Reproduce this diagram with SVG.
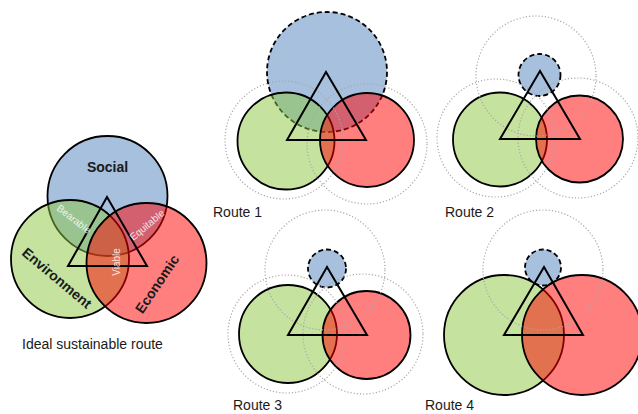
<svg xmlns="http://www.w3.org/2000/svg" width="638" height="414" viewBox="0 0 638 414">
<defs>
<style>
.soc{fill:#4F81BD;fill-opacity:0.5;stroke:#000;stroke-width:1.8}
.env{fill:#8CC63F;fill-opacity:0.5;stroke:#000;stroke-width:1.8}
.eco{fill:#FF0000;fill-opacity:0.5;stroke:#000;stroke-width:1.8}
.dash{stroke-dasharray:5 3}
.dot{fill:none;stroke:#A8A8A8;stroke-width:1.2;stroke-dasharray:1.2 2}
.tri{fill:none;stroke:#000;stroke-width:2;stroke-linejoin:miter}
.lbl{font-family:"Liberation Sans",Arial,sans-serif;font-size:14px;fill:#1a1a1a}
.big{font-family:"Liberation Sans",Arial,sans-serif;font-size:14px;font-weight:bold;fill:#1a1a1a}
.sm{font-family:"Liberation Sans",Arial,sans-serif;font-size:10px;fill:#fff;fill-opacity:0.85}
</style>
</defs>
<rect width="638" height="414" fill="#fff"/>
<g id="connectors"/>

<!-- Ideal -->
<g id="ideal">
<g id="ideal-social"><circle class="soc" cx="107.5" cy="196" r="60"/></g>
<g id="ideal-environment"><circle class="env" cx="70" cy="259" r="59"/></g>
<g id="ideal-economic"><circle class="eco" cx="146.5" cy="263" r="60"/></g>
<g id="ideal-triangle"><polygon class="tri" points="107,197 68,266 147,266"/></g>
<g id="ideal-labels">
<text class="big" x="107.5" y="172" text-anchor="middle" font-size="15">Social</text>
<text class="big" transform="translate(57,278) rotate(40)" x="0" y="5" text-anchor="middle">Environment</text>
<text class="big" transform="translate(157,284) rotate(-56)" x="0" y="5" text-anchor="middle">Economic</text>
<text class="sm" transform="translate(74,219) rotate(38)" x="0" y="3.5" text-anchor="middle">Bearable</text>
<text class="sm" transform="translate(147,225) rotate(-40)" x="0" y="3.5" text-anchor="middle">Equitable</text>
<text class="sm" transform="translate(116,262) rotate(-90)" x="0" y="3.5" text-anchor="middle">Viable</text>
</g>
<text class="lbl" x="22" y="349" font-size="13.5">Ideal sustainable route</text>
</g>

<!-- Route 1 -->
<g id="route1">
<g id="r1-social"><circle class="soc dash" cx="327" cy="72" r="60"/></g>
<g id="r1-environment"><circle class="env" cx="286" cy="141" r="48.5"/></g>
<g id="r1-economic"><circle class="eco" cx="367" cy="140" r="47"/></g>
<g id="r1-ideal">
<circle class="dot" cx="284" cy="140" r="59"/>
<circle class="dot" cx="367" cy="144" r="60"/>
</g>
<g id="r1-triangle"><polygon class="tri" points="326,72 287,140 366,140"/></g>
<text class="lbl" x="213" y="217">Route 1</text>
</g>

<!-- Route 2 -->
<g id="route2">
<g id="r2-social"><circle class="soc dash" cx="539.5" cy="75" r="21"/></g>
<g id="r2-environment"><circle class="env" cx="500" cy="139.5" r="47"/></g>
<g id="r2-economic"><circle class="eco" cx="579.5" cy="139" r="43.5"/></g>
<g id="r2-ideal">
<circle class="dot" cx="536" cy="76" r="60"/>
<circle class="dot" cx="496" cy="138" r="59"/>
<circle class="dot" cx="578" cy="138" r="60"/>
</g>
<g id="r2-triangle"><polygon class="tri" points="540,71 500,139 580,139"/></g>
<text class="lbl" x="445" y="217">Route 2</text>
</g>

<!-- Route 3 -->
<g id="route3">
<g id="r3-social"><circle class="soc dash" cx="327" cy="268.5" r="19"/></g>
<g id="r3-environment"><circle class="env" cx="288" cy="334" r="49"/></g>
<g id="r3-economic"><circle class="eco" cx="366.5" cy="335" r="44"/></g>
<g id="r3-ideal">
<circle class="dot" cx="325" cy="270" r="60"/>
<circle class="dot" cx="287" cy="334" r="59"/>
<circle class="dot" cx="363" cy="334" r="60"/>
</g>
<g id="r3-triangle"><polygon class="tri" points="327,267 288,335 367,335"/></g>
<text class="lbl" x="233" y="410">Route 3</text>
</g>

<!-- Route 4 -->
<g id="route4">
<g id="r4-social"><circle class="soc dash" cx="543" cy="267.5" r="18"/></g>
<g id="r4-environment"><circle class="env" cx="504" cy="335" r="60"/></g>
<g id="r4-economic"><circle class="eco" cx="582" cy="335" r="60"/></g>
<g id="r4-ideal">
<circle class="dot" cx="543" cy="270" r="60"/>
</g>
<g id="r4-triangle"><polygon class="tri" points="544,267 504,335 583,335"/></g>
<text class="lbl" x="425" y="410">Route 4</text>
</g>
</svg>
